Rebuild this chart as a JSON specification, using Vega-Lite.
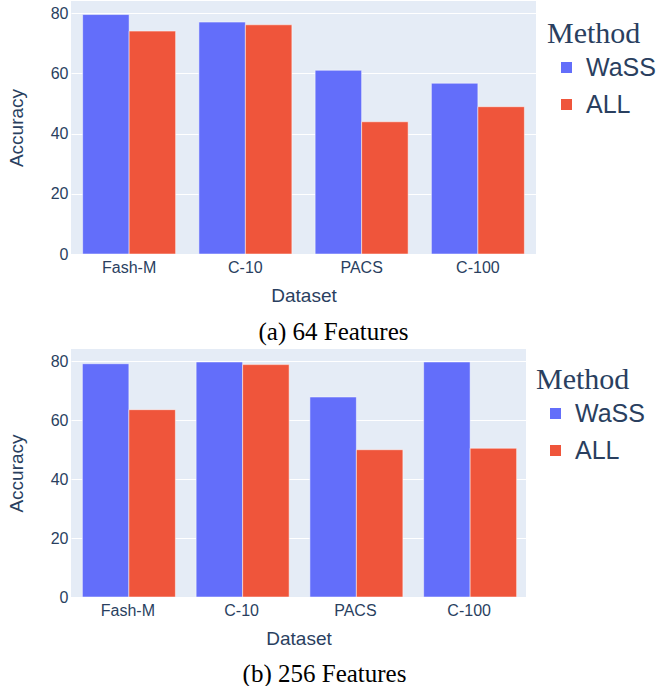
{
  "$schema": "https://vega.github.io/schema/vega-lite/v6.json",
  "padding": {"left": 7, "top": 1, "right": 0, "bottom": 0},
  "background": "white",
  "spacing": 4,
  "config": {
    "view": {"fill": "#E5ECF6", "stroke": null},
    "axis": {
      "labelFont": "Liberation Sans",
      "titleFont": "Liberation Sans",
      "labelColor": "#2a3f5f",
      "titleColor": "#2a3f5f",
      "labelFontSize": 16,
      "titleFontSize": 19,
      "titleFontWeight": "normal",
      "domain": false,
      "ticks": false,
      "gridColor": "white",
      "gridWidth": 1
    },
    "legend": {
      "orient": "none",
      "titleFont": "Liberation Serif",
      "titleFontSize": 30,
      "titleFontWeight": "normal",
      "titleColor": "#2a3f5f",
      "labelFont": "Liberation Sans",
      "labelFontSize": 25,
      "labelColor": "#2a3f5f",
      "symbolType": "square",
      "symbolSize": 121,
      "symbolStrokeWidth": 0,
      "symbolOffset": 7,
      "labelOffset": 7,
      "rowPadding": 11,
      "titlePadding": 6
    },
    "title": {
      "font": "Liberation Serif",
      "fontSize": 25,
      "fontWeight": "normal",
      "color": "black"
    }
  },
  "resolve": {"legend": {"color": "independent"}, "scale": {"color": "independent"}},
  "vconcat": [
    {
      "width": 465,
      "height": 253,
      "title": {"text": "(a) 64 Features", "orient": "bottom", "anchor": "middle", "dx": 30, "offset": 15},
      "data": {"values": [
        {"Dataset": "Fash-M", "Method": "WaSS", "Accuracy": 79.5},
        {"Dataset": "Fash-M", "Method": "ALL", "Accuracy": 74.0},
        {"Dataset": "C-10", "Method": "WaSS", "Accuracy": 77.0},
        {"Dataset": "C-10", "Method": "ALL", "Accuracy": 76.1},
        {"Dataset": "PACS", "Method": "WaSS", "Accuracy": 61.0},
        {"Dataset": "PACS", "Method": "ALL", "Accuracy": 43.9},
        {"Dataset": "C-100", "Method": "WaSS", "Accuracy": 56.7},
        {"Dataset": "C-100", "Method": "ALL", "Accuracy": 48.9}
      ]},
      "mark": {"type": "bar", "stroke": "white", "strokeWidth": 0.5},
      "encoding": {
        "x": {"field": "Dataset", "type": "nominal", "sort": ["Fash-M", "C-10", "PACS", "C-100"],
              "scale": {"paddingInner": 0.2, "paddingOuter": 0.1},
              "axis": {"labelAngle": 0, "labelPadding": 5, "titlePadding": 11}},
        "xOffset": {"field": "Method", "type": "nominal", "sort": ["WaSS", "ALL"]},
        "y": {"field": "Accuracy", "type": "quantitative", "scale": {"domain": [0, 84], "nice": false},
              "axis": {"values": [0, 20, 40, 60, 80], "labelPadding": 3, "titlePadding": 24}},
        "color": {"field": "Method", "type": "nominal", "sort": ["WaSS", "ALL"],
                  "scale": {"domain": ["WaSS", "ALL"], "range": ["#636EFA", "#EF553B"]},
                  "legend": {"legendX": 476, "legendY": 18}}
      }
    },
    {
      "width": 455,
      "height": 248,
      "title": {"text": "(b) 256 Features", "orient": "bottom", "anchor": "middle", "dx": 26, "offset": 14},
      "data": {"values": [
        {"Dataset": "Fash-M", "Method": "WaSS", "Accuracy": 79.2},
        {"Dataset": "Fash-M", "Method": "ALL", "Accuracy": 63.6},
        {"Dataset": "C-10", "Method": "WaSS", "Accuracy": 79.8},
        {"Dataset": "C-10", "Method": "ALL", "Accuracy": 78.9},
        {"Dataset": "PACS", "Method": "WaSS", "Accuracy": 67.9},
        {"Dataset": "PACS", "Method": "ALL", "Accuracy": 50.0},
        {"Dataset": "C-100", "Method": "WaSS", "Accuracy": 79.8},
        {"Dataset": "C-100", "Method": "ALL", "Accuracy": 50.5}
      ]},
      "mark": {"type": "bar", "stroke": "white", "strokeWidth": 0.5},
      "encoding": {
        "x": {"field": "Dataset", "type": "nominal", "sort": ["Fash-M", "C-10", "PACS", "C-100"],
              "scale": {"paddingInner": 0.2, "paddingOuter": 0.1},
              "axis": {"labelAngle": 0, "labelPadding": 5, "titlePadding": 11}},
        "xOffset": {"field": "Method", "type": "nominal", "sort": ["WaSS", "ALL"]},
        "y": {"field": "Accuracy", "type": "quantitative", "scale": {"domain": [0, 84.2], "nice": false},
              "axis": {"values": [0, 20, 40, 60, 80], "labelPadding": 3, "titlePadding": 24}},
        "color": {"field": "Method", "type": "nominal", "sort": ["WaSS", "ALL"],
                  "scale": {"domain": ["WaSS", "ALL"], "range": ["#636EFA", "#EF553B"]},
                  "legend": {"legendX": 465, "legendY": 16}}
      }
    }
  ]
}
